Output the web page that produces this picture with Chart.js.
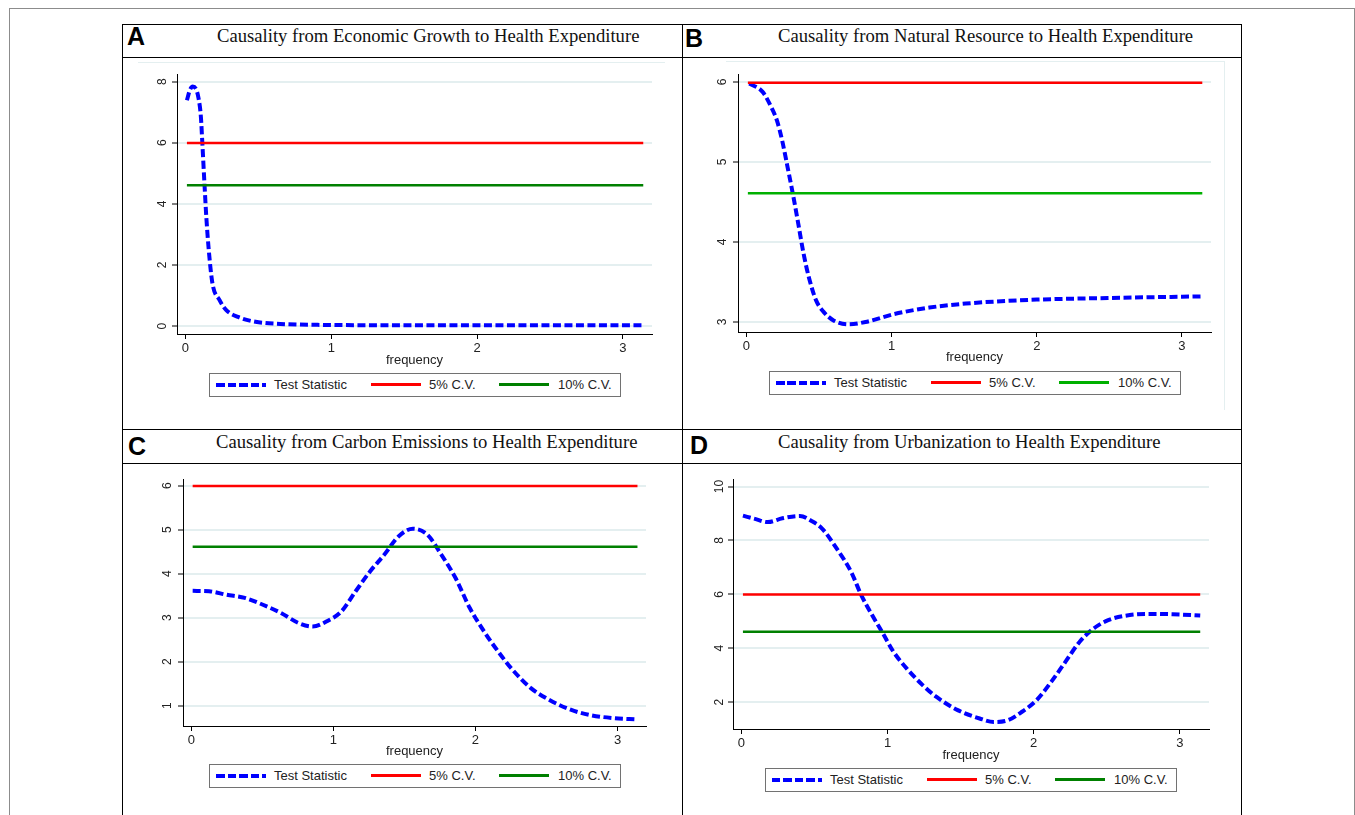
<!DOCTYPE html>
<html>
<head>
<meta charset="utf-8">
<title>Frequency domain causality</title>
<script src="https://cdn.jsdelivr.net/npm/chart.js@4.4.1/dist/chart.umd.min.js"></script>
<style>
    body { margin: 0; width: 1355px; height: 815px; overflow: hidden; background: #fff; position: relative; font-family: "Liberation Sans", Arial, sans-serif; }
    .abs { position: absolute; }
    .frame { left: 9px; top: 8px; width: 1344px; height: 900px; border: 1px solid #8c8c8c; }
    .hl { height: 1px; background: #000; }
    .vl { width: 1px; background: #000; }
    .faint { background: #e4eff0; }
    .letter { font: bold 25px/25px "Liberation Sans", Arial, sans-serif; color: #000; }
    .title { font: 18.65px/19px "Liberation Serif", "Times New Roman", serif; color: #111; white-space: nowrap; }
    .legend { height: 22px; border: 1px solid #727272; background: #fff; }
    .legend .smp { position: absolute; top: 9px; width: 50px; height: 3px; }
    .legend .dash { top: 8.5px; height: 4px; background: repeating-linear-gradient(to right, #0000ff 0 8.5px, transparent 8.5px 11.5px); }
    .legend .txt { position: absolute; top: 3px; font-size: 13px; line-height: 15px; color: #222; white-space: nowrap; }
    canvas { position: absolute; }
</style>
</head>
<body>
<div class="abs frame"></div>
<div id="grid"></div>
<div id="charts"></div>

<script>
// --- dados ---
const xTicks = [0, 1, 2, 3];
const lineFreq = [0.01, 3.14];          // extensão das linhas de valor crítico
const cv5 = 5.99;                        // 5% C.V.
const cv10 = 4.61;                       // 10% C.V.
const legendLabels = ['Test Statistic', '5% C.V.', '10% C.V.'];

// A - Economic Growth
const freqA = [0.01, 0.03, 0.05, 0.07, 0.09, 0.106, 0.116, 0.131, 0.143, 0.16, 0.185, 0.234, 0.28, 0.36, 0.48, 0.65, 0.9, 1.2, 1.6, 2.0, 2.5, 3.14];
const statA = [7.39, 7.72, 7.84, 7.78, 7.45, 6.84, 5.97, 4.6, 3.57, 2.48, 1.4, 0.85, 0.52, 0.3, 0.14, 0.07, 0.04, 0.03, 0.03, 0.03, 0.03, 0.03];
const yTicksA = [0, 2, 4, 6, 8];

// B - Natural Resource
const freqB = [0.02, 0.11, 0.17, 0.21, 0.246, 0.283, 0.32, 0.357, 0.393, 0.43, 0.48, 0.53, 0.6, 0.7, 0.82, 1.02, 1.26, 1.51, 1.755, 2.0, 2.49, 3.14];
const statB = [5.98, 5.88, 5.69, 5.52, 5.27, 4.94, 4.6, 4.23, 3.86, 3.56, 3.27, 3.13, 3.02, 2.97, 3.0, 3.1, 3.18, 3.23, 3.26, 3.28, 3.3, 3.32];
const yTicksB = [3, 4, 5, 6];

// C - Carbon Emissions
const freqC = [0.01, 0.126, 0.25, 0.377, 0.5, 0.63, 0.755, 0.855, 0.955, 1.056, 1.157, 1.258, 1.358, 1.46, 1.56, 1.66, 1.76, 1.86, 1.96, 2.06, 2.16, 2.26, 2.39, 2.515, 2.67, 2.82, 2.97, 3.14];
const statC = [3.61, 3.6, 3.52, 3.45, 3.3, 3.11, 2.88, 2.8, 2.92, 3.14, 3.6, 4.05, 4.43, 4.85, 5.02, 4.89, 4.43, 3.9, 3.22, 2.69, 2.23, 1.82, 1.4, 1.14, 0.91, 0.78, 0.72, 0.69];
const yTicksC = [1, 2, 3, 4, 5, 6];

// D - Urbanization
const freqD = [0.01, 0.098, 0.18, 0.28, 0.4, 0.48, 0.55, 0.65, 0.75, 0.82, 0.894, 0.968, 1.04, 1.14, 1.24, 1.335, 1.48, 1.63, 1.727, 1.825, 1.92, 2.02, 2.12, 2.217, 2.315, 2.413, 2.51, 2.658, 2.8, 2.95, 3.14];
const statD = [8.92, 8.79, 8.68, 8.82, 8.91, 8.72, 8.45, 7.71, 6.84, 5.97, 5.23, 4.55, 3.87, 3.19, 2.63, 2.19, 1.7, 1.39, 1.26, 1.33, 1.64, 2.07, 2.75, 3.49, 4.24, 4.74, 5.04, 5.23, 5.27, 5.26, 5.21];
const yTicksD = [2, 4, 6, 8, 10];

// --- layout dos painéis (posições em px da página) ---
const FONT = '"Liberation Sans", Arial, sans-serif';
const panels = [
    { letter: 'A', title: 'Causality from Economic Growth to Health Expenditure', freq: freqA, stat: statA, yTicks: yTicksA,
      yRange: [-0.26, 8.25], area: [177, 74, 652, 334], xH: 34, tickPad: 6, green: '#008000',
      letterPos: [127, 24], titlePos: [217, 26], legendTop: 373 },
    { letter: 'B', title: 'Causality from Natural Resource to Health Expenditure', freq: freqB, stat: statB, yTicks: yTicksB,
      yRange: [2.875, 6.1], area: [738, 74, 1211, 332], xH: 33, tickPad: 7, green: '#00b000',
      letterPos: [685, 26], titlePos: [778, 26], legendTop: 371 },
    { letter: 'C', title: 'Causality from Carbon Emissions to Health Expenditure', freq: freqC, stat: statC, yTicks: yTicksC,
      yRange: [0.54, 6.15], area: [183, 479, 646, 726], xH: 33, tickPad: 6.5, green: '#008000',
      letterPos: [128, 434], titlePos: [216, 432], legendTop: 764 },
    { letter: 'D', title: 'Causality from Urbanization to Health Expenditure', freq: freqD, stat: statD, yTicks: yTicksD,
      yRange: [1.0, 10.28], area: [733, 479, 1209, 729], xH: 34, tickPad: 2, green: '#008000',
      letterPos: [690, 433], titlePos: [778, 432], legendTop: 768 }
];
const xRange = [-0.058, 3.2];

// --- moldura da tabela ---
const grid = document.getElementById('grid');
function addDiv(cls, l, t, w, h) {
    const d = document.createElement('div');
    d.className = 'abs ' + cls;
    d.style.left = l + 'px'; d.style.top = t + 'px';
    if (w != null) d.style.width = w + 'px';
    if (h != null) d.style.height = h + 'px';
    grid.appendChild(d);
    return d;
}
[24, 57, 429, 463].forEach(y => addDiv('hl', 122, y, 1120, null));
[122, 682, 1241].forEach(x => addDiv('vl', x, 24, null, 800));
addDiv('faint', 138, 62, 527, 1);
addDiv('faint', 726, 61, 499, 1);
addDiv('faint', 1224, 61, 1, 349);

// --- gráficos ---
const Y_W = 55, PAD_T = 20, PAD_R = 20;
const holder = document.getElementById('charts');

panels.forEach(p => {
    const [l, t, r, b] = p.area;

    const letter = addDiv('letter', p.letterPos[0], p.letterPos[1]);
    letter.textContent = p.letter;
    const title = addDiv('title', p.titlePos[0], p.titlePos[1]);
    title.textContent = p.title;

    const canvas = document.createElement('canvas');
    canvas.width = (r - l) + Y_W + PAD_R;
    canvas.height = (b - t) + PAD_T + p.xH;
    canvas.style.left = (l - Y_W) + 'px';
    canvas.style.top = (t - PAD_T) + 'px';
    holder.appendChild(canvas);

    const pts = p.freq.map((f, i) => ({ x: f, y: p.stat[i] }));
    const hline = v => lineFreq.map(f => ({ x: f, y: v }));

    new Chart(canvas.getContext('2d'), {
        type: 'line',
        data: {
            datasets: [
                { label: legendLabels[0], data: pts, borderColor: '#0000ff', borderWidth: 4, borderDash: [8, 3.5],
                  cubicInterpolationMode: 'monotone', pointRadius: 0, order: 2 },
                { label: legendLabels[1], data: hline(cv5), borderColor: '#ff0000', borderWidth: 2.5, pointRadius: 0, order: 1 },
                { label: legendLabels[2], data: hline(cv10), borderColor: p.green, borderWidth: 2.5, pointRadius: 0, order: 0 }
            ]
        },
        options: {
            responsive: false,
            animation: false,
            events: [],
            layout: { padding: { left: 0, top: PAD_T, right: PAD_R, bottom: 0 } },
            plugins: { legend: { display: false }, tooltip: { enabled: false } },
            scales: {
                x: {
                    type: 'linear', min: xRange[0], max: xRange[1],
                    afterBuildTicks: s => { s.ticks = xTicks.map(v => ({ value: v })); },
                    afterFit: s => { s.height = p.xH; },
                    grid: { drawOnChartArea: false, drawTicks: true, tickLength: 5, tickColor: '#000', tickWidth: 1 },
                    border: { display: true, color: '#000', width: 1 },
                    ticks: { font: { family: FONT, size: 13 }, color: '#222', padding: 2, maxRotation: 0, autoSkip: false },
                    title: { display: true, text: 'frequency', font: { family: FONT, size: 13 }, color: '#222', padding: { top: 0, bottom: 0 } }
                },
                y: {
                    type: 'linear', min: p.yRange[0], max: p.yRange[1],
                    afterBuildTicks: s => { s.ticks = p.yTicks.map(v => ({ value: v })); },
                    afterFit: s => { s.width = Y_W; },
                    grid: { color: '#e4eff0', lineWidth: 2, drawTicks: true, tickLength: 5, tickColor: '#000', tickWidth: 1 },
                    border: { display: true, color: '#000', width: 1 },
                    ticks: { font: { family: FONT, size: 12 }, color: '#222', padding: p.tickPad, minRotation: 90, maxRotation: 90,
                             crossAlign: 'center', autoSkip: false }
                }
            }
        }
    });

    // legenda em HTML, centrada sob a área do gráfico
    const lg = addDiv('legend', Math.round((l + r) / 2 - 206), p.legendTop, 410, null);
    const samples = [['dash', '#0000ff', 6, 64], ['', '#ff0000', 161, 219], ['', p.green, 289, 348]];
    samples.forEach((s, i) => {
        const sm = document.createElement('span');
        sm.className = 'smp ' + s[0];
        if (!s[0]) sm.style.background = s[1];
        sm.style.left = s[2] + 'px';
        lg.appendChild(sm);
        const tx = document.createElement('span');
        tx.className = 'txt';
        tx.style.left = s[3] + 'px';
        tx.textContent = legendLabels[i];
        lg.appendChild(tx);
    });
});
</script>
</body>
</html>
